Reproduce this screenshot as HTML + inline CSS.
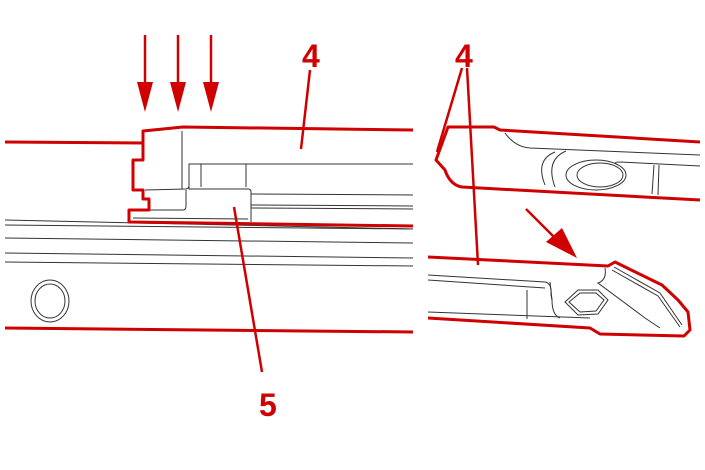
<!DOCTYPE html>
<html><head><style>body{margin:0;background:#fff}svg{display:block}</style></head><body>
<svg width="705" height="470" viewBox="0 0 705 470" xmlns="http://www.w3.org/2000/svg">
<g fill="none" stroke="#333" stroke-width="1">
<line x1="182" y1="131" x2="182" y2="189"/>
<path d="M189 188 V164 H413"/>
<line x1="201" y1="164" x2="201" y2="187"/>
<line x1="246" y1="164" x2="246" y2="187"/>
<path d="M145 190 L186 189 Q189 188 189 186 V189 H248 Q251 189 251 192 V222"/>
<path d="M149 210 L183 210 Q186 210 186 206 V190"/>
<line x1="251" y1="194" x2="413" y2="195"/>
<line x1="251" y1="205" x2="413" y2="206"/>
<line x1="251" y1="208" x2="413" y2="209"/>
<line x1="133" y1="218" x2="248" y2="219"/>
<line x1="5" y1="220" x2="413" y2="229"/>
<line x1="5" y1="225" x2="413" y2="229"/>
<line x1="5" y1="238" x2="413" y2="243"/>
<line x1="5" y1="253" x2="413" y2="258"/>
<line x1="5" y1="262" x2="413" y2="266"/>
<ellipse cx="50" cy="301" rx="19" ry="21"/>
<ellipse cx="50" cy="301" rx="15" ry="17"/>
<path d="M505 133 Q515 147 530 148 L700 155"/>
<path d="M620 162 L700 166"/>
<path d="M620 162 Q612 162 618 165"/>
<line x1="654" y1="165" x2="652" y2="194"/>
<line x1="659" y1="165" x2="658" y2="195"/>
<path d="M555 152 Q535 160 545 185"/>
<path d="M566 151 Q545 160 555 187"/>
<ellipse cx="596" cy="175" rx="30" ry="15"/>
<ellipse cx="600" cy="175" rx="23" ry="12"/>
<path d="M428 275 L545 282 Q552 283 551 295 L552 300"/>
<path d="M428 280 L545 288"/>
<path d="M428 312 L590 318"/>
<line x1="527" y1="290" x2="527" y2="319"/>
<path d="M550 282 L552 300 Q552 315 560 318"/>
<path d="M605 268 Q607 280 598 283 L645 318 L660 328"/>
<path d="M612 270 L658 296 L680 327"/>
<path d="M614 267 L660 293 L682 325"/>
<path d="M565 302 L578 290 L598 290 L608 300 L598 314 L578 315 Z"/>
<path d="M569 302 L580 293 L596 293 L604 300 L596 311 L580 312 Z"/>
</g>
<g fill="none" stroke="#d00000" stroke-width="3" stroke-linejoin="round">
<path d="M5 142 L143 143 V160 H133 V190 H143 V199 H149 V210 H129 V222 L413 226"/>
<path d="M143 143 V131 L183 127 L413 130"/>
<line x1="5" y1="328" x2="413" y2="332"/>
<path d="M700 142 L500 130 L494 127 L448 127 L436 160 L445 170 Q450 185 462 187 L700 200"/>
<path d="M428 257 L608 266 L615 262 L662 285 L678 300 L688 312 L690 330 L684 336 L600 334 L590 328 L428 318"/>
</g>
<g stroke="#d00000" stroke-width="2.5">
<line x1="145" y1="35" x2="145" y2="90"/>
<line x1="178" y1="35" x2="178" y2="90"/>
<line x1="211" y1="35" x2="211" y2="90"/>
<line x1="310" y1="70" x2="301" y2="149"/>
<line x1="234" y1="207" x2="262" y2="372"/>
<line x1="462" y1="68" x2="437" y2="152"/>
<line x1="467" y1="68" x2="478" y2="265"/>
<line x1="526" y1="209" x2="560" y2="243"/>
</g>
<g fill="#d00000">
<polygon points="137,82 153,82 145,112"/>
<polygon points="170,82 186,82 178,112"/>
<polygon points="203,82 219,82 211,112"/>
<polygon points="546,242 562,228 577,258"/>
</g>
<g font-family="Liberation Sans, sans-serif" font-size="32" fill="#d00000" font-weight="bold">
<text x="302" y="67">4</text>
<text x="259" y="416">5</text>
<text x="455" y="67">4</text>
</g>
</svg>
</body></html>
